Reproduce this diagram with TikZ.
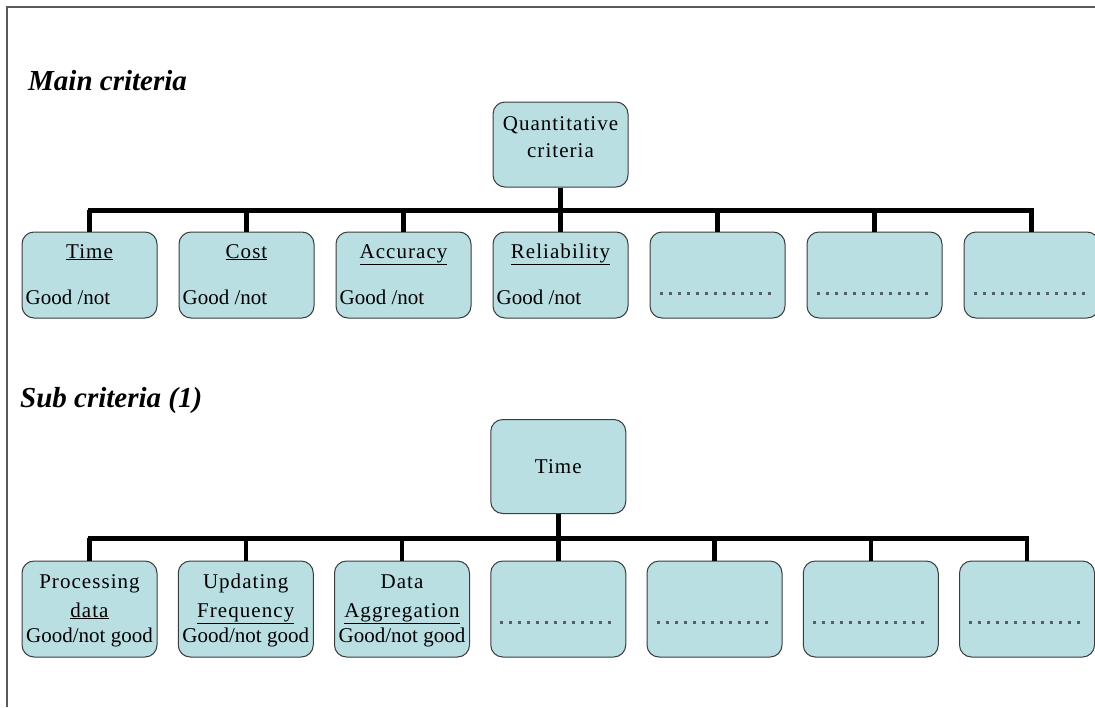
\documentclass[tikz,border=0pt]{standalone}
\usepackage{fontspec}
\setmainfont{Liberation Serif}
\newfontfamily\widefont[LetterSpace=5]{Liberation Serif}
\begin{document}
\definecolor{boxfill}{RGB}{185,223,227}
\definecolor{boxline}{RGB}{60,60,60}
\definecolor{dotgray}{RGB}{85,95,100}
\definecolor{framegray}{RGB}{90,90,90}
\begin{tikzpicture}[x=1pt,y=-1pt,
  critbox/.style={draw=boxline,line width=1pt,fill=boxfill,rounded corners=12pt,
    minimum width=135pt,inner sep=0pt},
  mainrow/.style={critbox,minimum height=86pt},
  subrow/.style={critbox,minimum height=96pt},
  boxtext/.style={font=\fontsize{21}{24}\selectfont,inner sep=0pt},
  widetext/.style={font=\fontsize{21}{24}\selectfont\widefont,inner sep=0pt},
  heading/.style={font=\fontsize{29}{34}\selectfont\bfseries\itshape,inner sep=0pt,anchor=base west},
  bus/.style={line width=5pt},
  drop/.style={line width=4.5pt},
  blank/.style={dotgray,line width=3pt,dash pattern=on 3pt off 6pt}
]
\useasboundingbox (0,0) rectangle (1095,707);
\fill[white] (0,0) rectangle (1095,707);
% page frame (top and left edges)
\draw[framegray,line width=1.2pt] (7,707) -- (7,7) -- (1095,7);

% ---------- Main criteria ----------
\node[heading] (h1) at (28,90) {Main criteria};

\node[critbox,minimum height=85pt] (q) at (560.5,144.5) {};
\node[widetext,anchor=base] (qa) at (560.5,130) {Quantitative};
\node[widetext,anchor=base] (qb) at (560.5,157) {criteria};

\foreach \i in {1,...,7}{
  \node[mainrow] (m\i) at ({89.5+157*(\i-1)},275) {};
}
\foreach \i/\t in {1/Time,2/Cost,3/Accuracy,4/Reliability}{
  \node[widetext,anchor=base] (mt\i) at ({89.5+157*(\i-1)},258) {\underline{\t}};
  \node[boxtext,anchor=base west] (mg\i) at ([xshift=4pt]m\i.west |- 0,304) {Good /not};
}
\foreach \i in {5,6,7}{
  \draw[blank] ([xshift=10pt]m\i.west |- 0,293) -- ([xshift=-10pt]m\i.east |- 0,293);
}

% connectors of the main row
\coordinate (busA) at (m1.north |- 0,210);
\coordinate (busB) at (m7.north |- 0,210);
\draw[bus] ([xshift=-2pt]busA) -- ([xshift=2pt]busB);
\draw[drop] (q.south) -- (q.south |- busA);
\foreach \i in {1,...,7}{
  \draw[drop] (m\i.north |- busA) -- (m\i.north);
}

% ---------- Sub criteria ----------
\node[heading] (h2) at (20,407) {Sub criteria (1)};

\node[critbox,minimum height=94pt] (t) at (558.25,466.5) {};
\node[widetext,anchor=base] (tt) at (558.25,473) {Time};

\foreach \i in {1,...,7}{
  \node[subrow] (s\i) at ({89.5+156.25*(\i-1)},609) {};
}
\foreach \i/\a/\b in {1/Processing/data,2/Updating/Frequency,3/Data/Aggregation}{
  \node[widetext,anchor=base] (sa\i) at ({89.5+156.25*(\i-1)},588) {\a};
  \node[widetext,anchor=base] (sb\i) at ({89.5+156.25*(\i-1)},617) {\underline{\b}};
  \node[boxtext,anchor=base] (sg\i) at ({89.5+156.25*(\i-1)},642) {Good/not good};
}
\foreach \i in {4,...,7}{
  \draw[blank] ([xshift=10pt]s\i.west |- 0,622) -- ([xshift=-10pt]s\i.east |- 0,622);
}

% connectors of the sub row
\coordinate (busC) at (s1.north |- 0,538);
\coordinate (busD) at (s7.north |- 0,538);
\draw[bus] ([xshift=-2pt]busC) -- ([xshift=2pt]busD);
\draw[drop] (t.south) -- (t.south |- busC);
\foreach \i in {1,...,7}{
  \draw[drop] (s\i.north |- busC) -- (s\i.north);
}
\end{tikzpicture}
\end{document}
